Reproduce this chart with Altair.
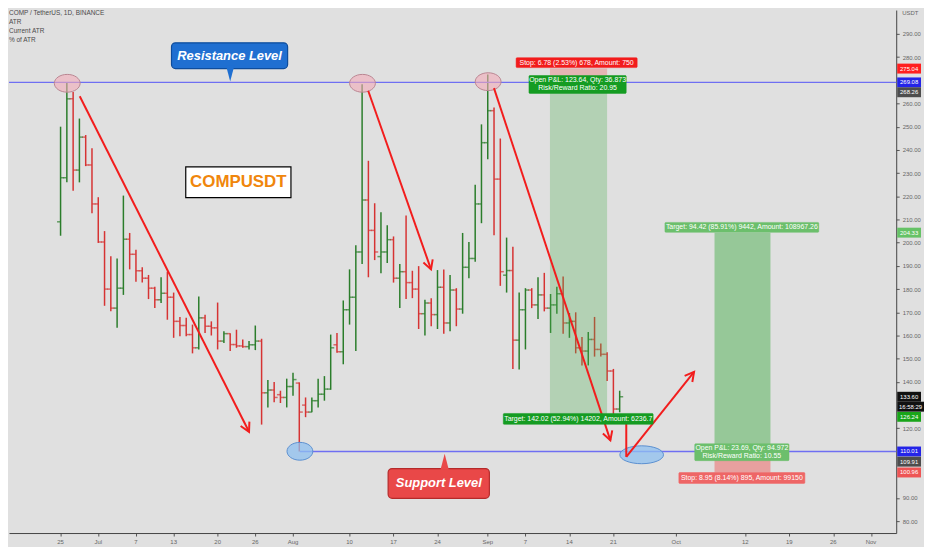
import math
import numpy as np
import pandas as pd
import altair as alt

# ---- COMP / TetherUS daily bars, first bar 2020-06-25 ----
first_day = "2020-06-25"
opens = [209, 228, 262, 231.3, 245.5, 233.5, 216.7, 200.3, 180, 171.8,
         180.4, 201.5, 195, 187.9, 184.7, 180.4, 175.4, 178.2, 176.5, 166.1,
         164.3, 160.4, 154.7, 167.6, 164, 163.3, 157.6, 160.8, 156.1, 155.5,
         155.2, 156, 157.6, 135.3, 136.5, 134.5, 133.3, 138, 139.5, 130,
         127, 131.9, 134.7, 136.9, 156, 153, 171.1, 176.5, 196, 218.4,
         205.3, 194, 196, 201.3, 184.7, 187.5, 182.8, 180, 169.4, 174,
         169, 180.8, 165.4, 179.6, 171.4, 189.4, 193.2, 216.7, 243.1, 256.9,
         227.4, 186, 188, 158, 171.1, 179.6, 173.2, 177.5, 171.8, 173.2,
         178, 165.4, 166.1, 154.7, 153.3, 158.3, 154, 151.9, 144.7, 128.3]
highs = [250, 269.1, 265, 253.5, 246.4, 240.7, 219.6, 205, 194.2, 193.2,
         220.3, 204.2, 197, 189.4, 186.1, 181, 185.1, 187.5, 178.5, 168,
         167.6, 164.7, 176.8, 168.9, 166.1, 174.2, 161.8, 161, 162.5, 158.3,
         157.6, 164.3, 158.6, 140.8, 140, 136.2, 141.4, 144, 139.8, 133.3,
         133.3, 141.4, 142.5, 160.4, 161.1, 175.1, 188.5, 198.9, 268.3, 235.3,
         217, 213.1, 207.5, 202.7, 190.8, 211.7, 187.9, 189.9, 175.4, 176.1,
         188.2, 188.5, 186.1, 180.4, 204.2, 200.3, 225, 251, 272.5, 258.3,
         244.9, 202.2, 198.2, 178.5, 180.4, 180.4, 185.1, 187, 177.9, 181,
         185.4, 169.7, 170, 159.4, 161.5, 168, 156.6, 152.8, 145.6, 136.2]
lows = [203, 226, 222.4, 226, 233, 212.7, 199.9, 172.8, 170.4, 163.3,
        177.5, 188.5, 183.2, 182.8, 175.7, 171.8, 174, 166.8, 159, 159.7,
        159.7, 152.3, 154, 161.1, 160, 154, 156.8, 153.3, 154.7, 154.7,
        154, 153.7, 121.6, 129, 131.2, 130.9, 129, 134, 110, 124.8,
        126.9, 129, 131.9, 136.6, 152.6, 147.6, 164.7, 153.3, 190.8, 185.1,
        192.5, 186.8, 191.3, 182.8, 171.8, 175.7, 176.1, 162.8, 160, 164,
        162.8, 160.8, 161.8, 164, 169.4, 184.7, 191.8, 208.4, 236, 203.2,
        181.4, 178.5, 145.6, 145.4, 154, 171.8, 167.1, 170.4, 161.1, 169.4,
        160.8, 159, 152.3, 147.1, 147.1, 150.9, 150.9, 140.4, 126.2, 126.9]
closes = [228, 262, 231.3, 245.5, 233.5, 216.7, 200.3, 180, 171.8, 180.4,
          201.5, 195, 187.9, 184.7, 180.4, 175.4, 178.2, 176.5, 166.1, 164.3,
          160.4, 154.7, 167.6, 164, 163.3, 157.6, 160.8, 156.1, 155.5, 155.2,
          156, 157.6, 135.3, 136.5, 133.3, 133.3, 138, 141, 127, 127,
          131.9, 134.7, 136.9, 154.7, 153, 171.1, 176.5, 196, 218.4, 205.3,
          196, 196, 201.3, 184.7, 187.5, 182.8, 180, 169.4, 174, 169,
          180.8, 165.4, 179.6, 171.4, 189.4, 193.2, 216.7, 243.1, 256.9, 227.4,
          187.5, 188, 158, 171.1, 179.6, 173.2, 177.5, 171.8, 173.2, 178,
          165.4, 166.1, 154.7, 153.3, 158.3, 154, 151.9, 144.7, 128.3, 133.6]

tick_dates = ["2020-06-25", "2020-07-01", "2020-07-07", "2020-07-13", "2020-07-20",
              "2020-07-26", "2020-08-01", "2020-08-10", "2020-08-17", "2020-08-24",
              "2020-09-01", "2020-09-07", "2020-09-14", "2020-09-21", "2020-10-01",
              "2020-10-12", "2020-10-19", "2020-10-26", "2020-11-01"]
# price scale labels that are not covered by a price tag
price_ticks = [80, 90, 120, 140, 150, 160, 170, 180, 190, 200, 210, 220, 230,
               240, 250, 260, 280, 290]
header_lines = ["COMP / TetherUS, 1D, BINANCE", "ATR", "Current ATR", "% of ATR"]
currency = "USDT"

# levels and touches (day index from first bar, price)
resistance_price = 269.08
support_price = 110.01
support_from_day = 38.1
res_touch_days = [1.06, 48.06, 68.06]
res_touch_prices = [268.7, 268.7, 269.4]
sup_touch_days = [38.1]
sup_touch_prices = [110.1]
big_touch_days = [92.5]
big_touch_prices = [108.6]

# hand-drawn arrows (polylines, day index / price)
arrow_paths = [
    [(3.05, 263.1), (30.0, 118.5)],
    [(48.97, 265.5), (58.97, 188.5)],
    [(68.99, 266.6), (87.52, 114.8)],
    [(90.05, 122.6), (90.05, 107.7), (100.84, 144.3)],
]

# position tools: short then long
pos_day_from = [77.9, 104.1]
pos_day_to = [87.0, 113.0]
pos_entry = [268.26, 109.91]
pos_stop = [275.04, 100.96]
pos_target = [126.24, 204.33]

# notes (text anchors)
note_texts = ["Resistance Level", "Support Level", "COMPUSDT",
              "Stop: 6.78 (2.53%) 678, Amount: 750",
              "Open P&L: 123.64, Qty: 36.873\nRisk/Reward Ratio: 20.95",
              "Target: 142.02 (52.94%) 14202, Amount: 6236.7",
              "Target: 94.42 (85.91%) 9442, Amount: 108967.26",
              "Open P&L: 23.69, Qty: 94.972\nRisk/Reward Ratio: 10.55",
              "Stop: 8.95 (8.14%) 895, Amount: 99150"]
note_days = [26.9, 60.2, 28.3, 82.15, 82.3, 82.4, 108.45, 108.45, 108.45]
note_prices = [280.6, 96.25, 226.05, 277.6, 268.2, 124.05, 206.6, 109.7, 98.6]
pointer_days = [27.0, 61.14]
pointer_prices = [272.46, 106.08]

# price tags on the right scale (second group is pushed down to avoid overlap)
tag_prices = [275.04, 269.08, 204.33, 133.60, 110.01, 100.96]
pushed_tag_prices = [268.26, 126.24, 109.91]
countdown = "16:58:29"

# ---------------------------------------------------------------
W, H = 894, 527
D_DOM = [-8.21, 133.02]
P_DOM = [74.86, 300.27]
BG = "#e0e0e0"
FONT = "Liberation Sans, Arial, sans-serif"
UP, DOWN = "#2b7d2b", "#d63333"
LEVEL = "#6f6ff2"
ARROW = "#f21d1d"

XS = alt.Scale(domain=D_DOM, nice=False, zero=False)
YS = alt.Scale(domain=P_DOM, nice=False, zero=False)

start = pd.Timestamp(first_day)
ticks = pd.DataFrame({"date": pd.to_datetime(tick_dates)})
ticks["d"] = (ticks["date"] - start).dt.days
ticks["label"] = [t.strftime("%b") if t.day == 1 else str(t.day) for t in ticks["date"]]

X_AXIS = alt.Axis(values=ticks["d"].tolist(), labels=False, tickSize=3, tickColor="#555",
                  domainColor="#444", grid=False, title=None)
Y_AXIS = alt.Axis(orient="right", values=price_ticks, format=".2f",
                  labelFontSize=6, labelColor="#666", labelFont=FONT, tickSize=3,
                  tickColor="#555", domainColor="#444", grid=False, labelPadding=3,
                  title=None)


def xq(f):
    return alt.X(f, type="quantitative", scale=XS, axis=X_AXIS, title=None)


def yq(f):
    return alt.Y(f, type="quantitative", scale=YS, axis=Y_AXIS, title=None)


bars = pd.DataFrame({"d": np.arange(len(opens)), "o": opens, "h": highs,
                     "l": lows, "c": closes})
bars["dir"] = np.where(bars["c"] >= bars["o"], "up", "down")
bar_color = alt.Color("dir:N", scale=alt.Scale(domain=["up", "down"], range=[UP, DOWN]),
                      legend=None)

layers = []

# OHLC bars
layers.append(alt.Chart(bars).mark_rule(strokeWidth=1.5).encode(
    x=xq("d"), y=yq("l"), y2="h", color=bar_color))
layers.append(alt.Chart(bars).mark_tick(orient="horizontal", size=3.5, thickness=1.5,
                                        xOffset=-1.8).encode(
    x=xq("d"), y=yq("o"), color=bar_color))
layers.append(alt.Chart(bars).mark_tick(orient="horizontal", size=3.5, thickness=1.5,
                                        xOffset=1.8).encode(
    x=xq("d"), y=yq("c"), color=bar_color))

# position zones
zone_op = [(0.3, 0.3), (0.5, 0.45)]
for i in range(len(pos_entry)):
    z = pd.DataFrame({"d1": [pos_day_from[i]], "d2": [pos_day_to[i]], "e": [pos_entry[i]],
                      "s": [pos_stop[i]], "t": [pos_target[i]]})
    layers.append(alt.Chart(z).mark_rect(color="#4caf50", opacity=zone_op[i][0]).encode(
        x=xq("d1"), x2="d2", y=yq("e"), y2="t"))
    layers.append(alt.Chart(z).mark_rect(color="#ef5350", opacity=zone_op[i][1]).encode(
        x=xq("d1"), x2="d2", y=yq("e"), y2="s"))

# support / resistance lines
layers.append(alt.Chart(pd.DataFrame({"p": [resistance_price]})).mark_rule(
    color=LEVEL, strokeWidth=1.3).encode(y=yq("p")))
layers.append(alt.Chart(pd.DataFrame({"d": [support_from_day], "p": [support_price]})).mark_rule(
    color=LEVEL, strokeWidth=1.3).encode(x=xq("d"), x2=alt.value(W), y=yq("p")))

# touch ovals
oval = "M-1,0A1,0.69,0,1,0,1,0A1,0.69,0,1,0,-1,0Z"
wide_oval = "M-1,0A1,0.41,0,1,0,1,0A1,0.41,0,1,0,-1,0Z"
layers.append(alt.Chart(pd.DataFrame({"d": res_touch_days, "p": res_touch_prices})).mark_point(
    shape=oval, size=676, filled=True, fill="#f2aab8", fillOpacity=0.6, stroke="#b98591",
    strokeWidth=1, opacity=1).encode(x=xq("d"), y=yq("p")))
layers.append(alt.Chart(pd.DataFrame({"d": sup_touch_days, "p": sup_touch_prices})).mark_point(
    shape=oval, size=676, filled=True, fill="#8fc0f0", fillOpacity=0.75, stroke="#5b8fd0",
    strokeWidth=1, opacity=1).encode(x=xq("d"), y=yq("p")))
layers.append(alt.Chart(pd.DataFrame({"d": big_touch_days, "p": big_touch_prices})).mark_point(
    shape=wide_oval, size=1936, filled=True, fill="#8fc0f0", fillOpacity=0.75, stroke="#5b8fd0",
    strokeWidth=1, opacity=1).encode(x=xq("d"), y=yq("p")))

# arrows
kx = W / (D_DOM[1] - D_DOM[0])
ky = H / (P_DOM[1] - P_DOM[0])
segs, heads = [], []
for path in arrow_paths:
    for (d1, p1), (d2, p2) in zip(path[:-1], path[1:]):
        segs.append({"d1": d1, "p1": p1, "d2": d2, "p2": p2})
    (d1, p1), (d2, p2) = path[-2], path[-1]
    ang = math.degrees(math.atan2(-(p2 - p1) * ky, (d2 - d1) * kx)) % 360
    heads.append({"d": d2, "p": p2, "ang": ang})
layers.append(alt.Chart(pd.DataFrame(segs)).mark_rule(color=ARROW, strokeWidth=2).encode(
    x=xq("d1"), x2="d2", y=yq("p1"), y2="p2"))
layers.append(alt.Chart(pd.DataFrame(heads)).mark_point(
    shape="M-1,-0.55L0,0L-1,0.55", size=324, filled=False, stroke=ARROW, strokeWidth=2,
    opacity=1).encode(x=xq("d"), y=yq("p"), angle=alt.Angle("ang:Q", scale=None)))

# note boxes and texts
box_style = [
    dict(w=117, h=26, fill="#1f6fd1", stroke="#0d4c9c", r=4, fs=13, fw="bold", it="italic", tc="white", dy=0),
    dict(w=102, h=30, fill="#e94848", stroke="#b52a2a", r=4, fs=13, fw="bold", it="italic", tc="white", dy=0),
    dict(w=106, h=31, fill="white", stroke="black", r=0, fs=17, fw="bold", it="normal", tc="#f0860c", dy=0),
    dict(w=122, h=10, fill="#f21c1c", stroke="#f21c1c", r=1, fs=7, fw="normal", it="normal", tc="white", dy=0),
    dict(w=98, h=18, fill="#159c22", stroke="#159c22", r=1, fs=7, fw="normal", it="normal", tc="white", dy=-4),
    dict(w=151, h=11, fill="#159c22", stroke="#159c22", r=1, fs=7, fw="normal", it="normal", tc="white", dy=0),
    dict(w=155, h=10, fill="#6cbf6c", stroke="#6cbf6c", r=1, fs=7, fw="normal", it="normal", tc="white", dy=0),
    dict(w=95, h=17, fill="#6cbf6c", stroke="#6cbf6c", r=1, fs=7, fw="normal", it="normal", tc="white", dy=-4),
    dict(w=127, h=11, fill="#ee6666", stroke="#ee6666", r=1, fs=7, fw="normal", it="normal", tc="white", dy=0),
]
pointer_style = [
    dict(shape="M-0.6,-1.3L0.6,-1.3L0,1Z", fill="#1f6fd1"),
    dict(shape="M-0.6,1.3L0.6,1.3L0,-1Z", fill="#e94848"),
]
for i, st in enumerate(box_style):
    nd = pd.DataFrame({"d": [note_days[i]], "p": [note_prices[i]], "t": [note_texts[i]]})
    layers.append(alt.Chart(nd).mark_rect(
        fill=st["fill"], stroke=st["stroke"], strokeWidth=1.2 if st["r"] != 1 else 0.5,
        cornerRadius=st["r"], xOffset=-st["w"] / 2, x2Offset=st["w"] / 2,
        yOffset=-st["h"] / 2, y2Offset=st["h"] / 2).encode(
        x=xq("d"), x2="d", y=yq("p"), y2="p"))
    if i < len(pointer_style):
        ps = pointer_style[i]
        pd_ = pd.DataFrame({"d": [pointer_days[i]], "p": [pointer_prices[i]]})
        layers.append(alt.Chart(pd_).mark_point(
            shape=ps["shape"], size=196, filled=True, fill=ps["fill"], opacity=1,
            strokeWidth=0).encode(x=xq("d"), y=yq("p")))
    layers.append(alt.Chart(nd).mark_text(
        font=FONT, fontSize=st["fs"], fontWeight=st["fw"], fontStyle=st["it"],
        color=st["tc"], lineBreak="\n", lineHeight=8, dy=st["dy"]).encode(
        x=xq("d"), y=yq("p"), text="t:N"))

# x tick labels
layers.append(alt.Chart(ticks[["d", "label"]]).mark_text(
    font=FONT, fontSize=6, color="#666", baseline="top").encode(
    x=xq("d"), y=alt.value(H + 6), text="label:N"))

# price tags on the right scale
tag_fill = ["#ff1f1f", "#2424e8", "#66c266", "#111111", "#2424e8", "#ee5555"]
pushed_fill = ["#4d4d4d", "#19a519", "#4d4d4d"]
pushed_shift = [8, 3, 10]
tags = pd.DataFrame({"p": tag_prices, "txt": [f"{v:.2f}" for v in tag_prices],
                     "fill": tag_fill, "dy": 0})
pushed = pd.DataFrame({"p": pushed_tag_prices, "txt": [f"{v:.2f}" for v in pushed_tag_prices],
                       "fill": pushed_fill, "dy": pushed_shift})
for tb in (tags, pushed):
    for _, row in tb.iterrows():
        one = pd.DataFrame([row])
        layers.append(alt.Chart(one).mark_rect(
            yOffset=-5 + row["dy"], y2Offset=5 + row["dy"], color=row["fill"]).encode(
            x=alt.value(W + 1), x2=alt.value(W + 25), y=yq("p"), y2="p"))
        layers.append(alt.Chart(one).mark_text(
            font=FONT, fontSize=6, color="white", yOffset=row["dy"]).encode(
            x=alt.value(W + 13), y=yq("p"), text="txt:N"))
cd = pd.DataFrame({"p": [closes[-1]], "t": [countdown]})
layers.append(alt.Chart(cd).mark_rect(color="#111111", yOffset=5, y2Offset=15).encode(
    x=alt.value(W + 1), x2=alt.value(W + 28), y=yq("p"), y2="p"))
layers.append(alt.Chart(cd).mark_text(font=FONT, fontSize=6, color="white", yOffset=10).encode(
    x=alt.value(W + 14.5), y=yq("p"), text="t:N"))

# currency and legend header
layers.append(alt.Chart(pd.DataFrame({"t": [currency]})).mark_text(
    font=FONT, fontSize=6, color="#666", align="left", baseline="top").encode(
    x=alt.value(W + 6), y=alt.value(0), text="t:N"))
layers.append(alt.Chart(pd.DataFrame({"t": ["\n".join(header_lines)]})).mark_text(
    font=FONT, fontSize=6.5, color="#4a4a4a", align="left", baseline="top",
    lineBreak="\n", lineHeight=9).encode(
    x=alt.value(0), y=alt.value(0), text="t:N"))

chart = alt.layer(*layers).properties(
    width=W, height=H, padding=0, background=BG
).configure_view(strokeWidth=0)

chart.save("out.html", embed_options={"renderer": "svg", "actions": False})
